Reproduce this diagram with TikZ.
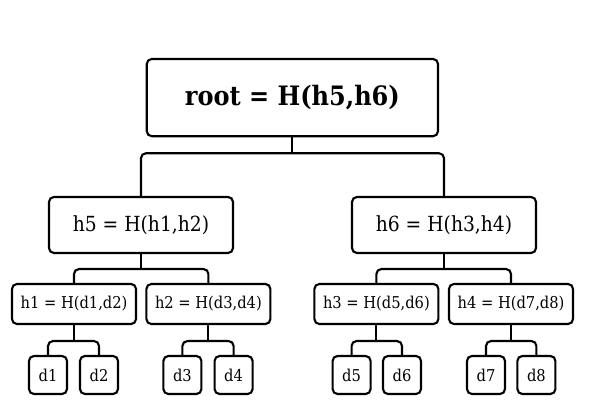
\documentclass[tikz,border=0pt]{standalone}
\usepackage{fontspec}
\setmainfont{DejaVu Serif Condensed}
\usepackage{tikz}

\begin{document}
\begin{tikzpicture}[
line width=1.5pt,
box/.style={
draw,
fill=white,
rectangle,
rounded corners=3.5pt,
inner sep=0pt},
rootbox/.style={
box,
minimum width=7.28cm,
minimum height=1.93cm,
font=\fontsize{19}{22}\selectfont\bfseries},
midbox/.style={
box,
minimum width=4.6cm,
minimum height=1.4cm,
font=\fontsize{14.8}{17}\selectfont},
lowbox/.style={
box,
minimum width=3.1cm,
minimum height=1cm,
font=\fontsize{11.6}{13}\selectfont},
leafbox/.style={
box,
minimum width=0.95cm,
minimum height=0.95cm,
font=\fontsize{11.6}{13}\selectfont},
link/.style={rounded corners=3.5pt}
]

\useasboundingbox (0,0) rectangle (14.775,-10.4);

\draw (7.31,-2.44)node[rootbox] (root) {root = H(h5,h6)};

\draw (3.525,-5.625)node[midbox] (h5) {h5 = H(h1,h2)};
\draw (11.1,-5.625)node[midbox] (h6) {h6 = H(h3,h4)};

\draw (1.85,-7.6)node[lowbox] (h1) {h1 = H(d1,d2)};
\draw (5.21,-7.6)node[lowbox] (h2) {h2 = H(d3,d4)};
\draw (9.41,-7.6)node[lowbox] (h3) {h3 = H(d5,d6)};
\draw (12.775,-7.6)node[lowbox] (h4) {h4 = H(d7,d8)};

\draw (1.2,-9.375)node[leafbox] (d1) {d1};
\draw (2.475,-9.375)node[leafbox] (d2) {d2};
\draw (4.56,-9.375)node[leafbox] (d3) {d3};
\draw (5.84,-9.375)node[leafbox] (d4) {d4};
\draw (8.79,-9.375)node[leafbox] (d5) {d5};
\draw (10.05,-9.375)node[leafbox] (d6) {d6};
\draw (12.15,-9.375)node[leafbox] (d7) {d7};
\draw (13.41,-9.375)node[leafbox] (d8) {d8};

% stems under each parent
\path (root.south) ++(0,-0.4) coordinate (rootbar);
\path (h5.south) ++(0,-0.375) coordinate (h5bar);
\path (h6.south) ++(0,-0.375) coordinate (h6bar);
\path (h1.south) ++(0,-0.4) coordinate (h1bar);
\path (h2.south) ++(0,-0.4) coordinate (h2bar);
\path (h3.south) ++(0,-0.4) coordinate (h3bar);
\path (h4.south) ++(0,-0.4) coordinate (h4bar);

\draw (root.south) -- (rootbar);
\draw[link] (h5.north) |- (rootbar) -| (h6.north);

\draw (h5.south) -- (h5bar);
\draw[link] (h1.north) |- (h5bar) -| (h2.north);
\draw (h6.south) -- (h6bar);
\draw[link] (h3.north) |- (h6bar) -| (h4.north);

\draw (h1.south) -- (h1bar);
\draw[link] (d1.north) |- (h1bar) -| (d2.north);
\draw (h2.south) -- (h2bar);
\draw[link] (d3.north) |- (h2bar) -| (d4.north);
\draw (h3.south) -- (h3bar);
\draw[link] (d5.north) |- (h3bar) -| (d6.north);
\draw (h4.south) -- (h4bar);
\draw[link] (d7.north) |- (h4bar) -| (d8.north);

\end{tikzpicture}
\end{document}
